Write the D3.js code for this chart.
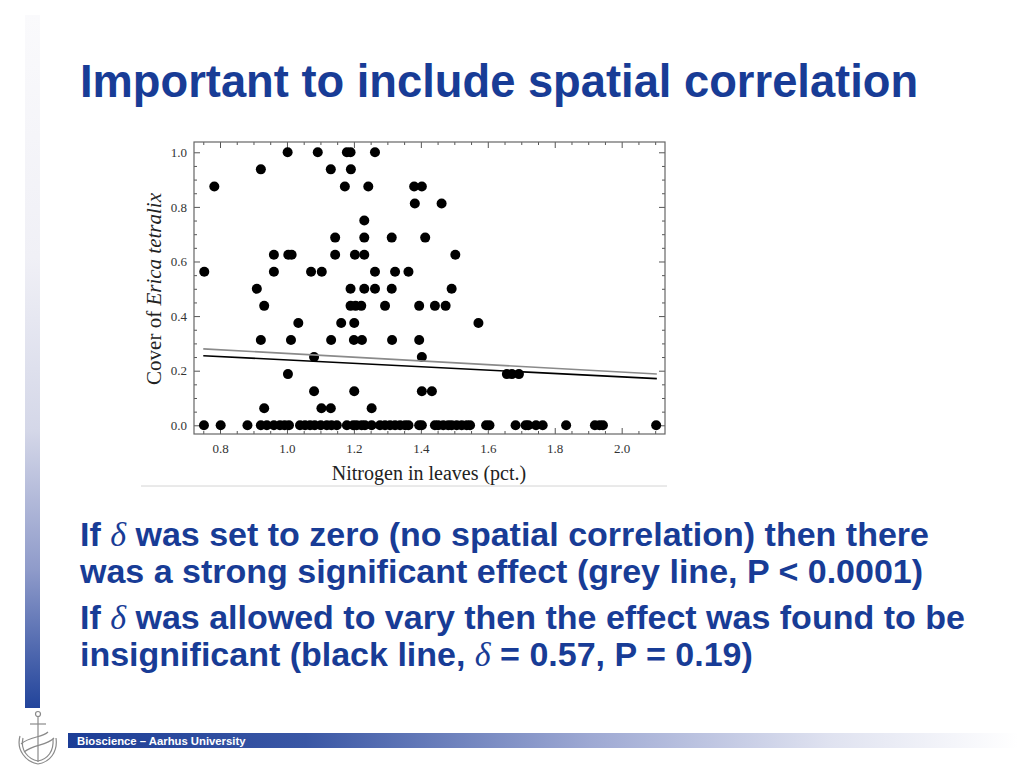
<!DOCTYPE html>
<html>
<head>
<meta charset="utf-8">
<script src="https://cdn.jsdelivr.net/npm/d3@7"></script>
<style>
  body { margin: 0; background: #fff; }
  svg { display: block; }
</style>
</head>
<body>
<script>
// slide size
var w = 1024, h = 768;

// nitrogen (pct.) of each plot, grouped by Erica cover level
var coverLevels = [0, 0.0625, 0.125, 0.1875, 0.25, 0.3125, 0.375, 0.4375, 0.5,
                   0.5625, 0.625, 0.6875, 0.75, 0.8125, 0.875, 0.9375, 1.0];
var nitrogenAtLevel = [
  [0.752, 0.802, 0.882, 0.922, 0.94, 0.961, 0.979, 0.993, 1.006, 1.039, 1.054, 1.069,
   1.083, 1.101, 1.119, 1.133, 1.149, 1.179, 1.198, 1.208, 1.223, 1.233, 1.253, 1.278,
   1.293, 1.308, 1.323, 1.338, 1.353, 1.363, 1.395, 1.403, 1.442, 1.452, 1.467, 1.482,
   1.492, 1.507, 1.522, 1.537, 1.547, 1.595, 1.605, 1.683, 1.713, 1.721, 1.744, 1.764,
   1.834, 1.92, 1.934, 1.944, 2.103],
  [0.932, 1.103, 1.131, 1.253],
  [1.081, 1.201, 1.403, 1.433],
  [1.003, 1.657, 1.672, 1.693],
  [1.081, 1.403],
  [0.922, 1.012, 1.132, 1.2, 1.224, 1.314, 1.395],
  [1.034, 1.162, 1.201, 1.572],
  [0.932, 1.19, 1.205, 1.222, 1.293, 1.395, 1.442, 1.474],
  [0.91, 1.19, 1.231, 1.263, 1.313, 1.492],
  [0.753, 0.961, 1.072, 1.104, 1.263, 1.323, 1.363],
  [0.961, 1.004, 1.014, 1.144, 1.203, 1.231, 1.503],
  [1.144, 1.231, 1.313, 1.413],
  [1.231],
  [1.382, 1.462],
  [0.783, 1.173, 1.243, 1.38, 1.403],
  [0.922, 1.131, 1.191],
  [1.002, 1.092, 1.179, 1.19, 1.263]
];

// fitted lines: [nitrogen, cover]
var fitNoSpatial = [[0.75, 0.28], [2.105, 0.188]];   // grey, delta = 0
var fitSpatial = [[0.75, 0.255], [2.105, 0.171]];    // black, delta free

var xTicks = [0.8, 1.0, 1.2, 1.4, 1.6, 1.8, 2.0];
var yTicks = [0.0, 0.2, 0.4, 0.6, 0.8, 1.0];

var blue = "#183c96";

var svg = d3.select("body").append("svg")
    .attr("width", w)
    .attr("height", h);

var defs = svg.append("defs");

// left vertical strip gradient
var gBar = defs.append("linearGradient")
    .attr("id", "sideBar")
    .attr("x1", 0).attr("y1", 0).attr("x2", 0).attr("y2", 1);
[["0%", "#fafafc"], ["35%", "#f0f0f6"], ["60%", "#d4d7e8"], ["80%", "#8f9bca"], ["100%", "#22449b"]]
  .forEach(function(s){ gBar.append("stop").attr("offset", s[0]).attr("stop-color", s[1]); });

// footer bar gradient
var gFoot = defs.append("linearGradient")
    .attr("id", "footBar")
    .attr("x1", 0).attr("y1", 0).attr("x2", 1).attr("y2", 0);
[["0%", "#1c3d96"], ["25%", "#3a57a5"], ["55%", "#9ea9d3"], ["80%", "#dfe2f0"], ["100%", "#ffffff"]]
  .forEach(function(s){ gFoot.append("stop").attr("offset", s[0]).attr("stop-color", s[1]); });

svg.append("rect")
    .attr("x", 25).attr("y", 15)
    .attr("width", 15).attr("height", 693)
    .style("fill", "url(#sideBar)");

// title
svg.append("text")
    .attr("x", 80).attr("y", 97)
    .style("font-family", "'Liberation Sans', Arial, sans-serif")
    .style("font-weight", "bold")
    .style("font-size", "45.3px")
    .style("fill", blue)
    .text("Important to include spatial correlation");

// ---- chart ----
var plotL = 194, plotR = 665, plotT = 142, plotB = 434;

var x = d3.scaleLinear().domain([0.7223, 2.1294]).range([plotL, plotR]);
var y = d3.scaleLinear().domain([-0.0319, 1.0377]).range([plotB, plotT]);

// picture bottom edge
svg.append("line")
    .attr("x1", 141).attr("x2", 667)
    .attr("y1", 486).attr("y2", 486)
    .style("stroke", "#d4d4d4");

var chart = svg.append("g");
var fmt = d3.format(".1f");
var serif = "'Liberation Serif', 'Times New Roman', serif";

function minorTicks(lo, hi){
  var t = [];
  for (var i = Math.ceil(lo / 0.05); i * 0.05 <= hi; i++) t.push(+(i * 0.05).toFixed(2));
  return t;
}
var xMinor = minorTicks(0.7223, 2.1294).filter(function(v){ return xTicks.indexOf(v) < 0; });
var yMinor = minorTicks(-0.0319, 1.0377).filter(function(v){ return yTicks.indexOf(v) < 0; });

function styleAxis(g, labels){
  g.select(".domain").remove();
  g.selectAll(".tick line").style("stroke", "#555");
  g.selectAll(".tick text")
    .style("font-family", serif)
    .style("font-size", "13px")
    .style("fill", labels ? "#333" : "none");
}

// bottom
chart.append("g").attr("transform", "translate(0," + plotB + ")")
    .call(d3.axisBottom(x).tickValues(xTicks).tickSize(-6).tickPadding(10).tickFormat(fmt))
    .call(styleAxis, true);
chart.append("g").attr("transform", "translate(0," + plotB + ")")
    .call(d3.axisBottom(x).tickValues(xMinor).tickSize(-3).tickFormat(""))
    .call(styleAxis, false);
// top
chart.append("g").attr("transform", "translate(0," + plotT + ")")
    .call(d3.axisTop(x).tickValues(xTicks).tickSize(-6).tickFormat(""))
    .call(styleAxis, false);
chart.append("g").attr("transform", "translate(0," + plotT + ")")
    .call(d3.axisTop(x).tickValues(xMinor).tickSize(-3).tickFormat(""))
    .call(styleAxis, false);
// left
chart.append("g").attr("transform", "translate(" + plotL + ",0)")
    .call(d3.axisLeft(y).tickValues(yTicks).tickSize(-6).tickPadding(7).tickFormat(fmt))
    .call(styleAxis, true);
chart.append("g").attr("transform", "translate(" + plotL + ",0)")
    .call(d3.axisLeft(y).tickValues(yMinor).tickSize(-3).tickFormat(""))
    .call(styleAxis, false);
// right
chart.append("g").attr("transform", "translate(" + plotR + ",0)")
    .call(d3.axisRight(y).tickValues(yTicks).tickSize(-6).tickFormat(""))
    .call(styleAxis, false);
chart.append("g").attr("transform", "translate(" + plotR + ",0)")
    .call(d3.axisRight(y).tickValues(yMinor).tickSize(-3).tickFormat(""))
    .call(styleAxis, false);

// frame
chart.append("rect")
    .attr("x", plotL).attr("y", plotT)
    .attr("width", plotR - plotL).attr("height", plotB - plotT)
    .style("fill", "none")
    .style("stroke", "#666")
    .style("stroke-width", 1.2);

// points
var points = [];
coverLevels.forEach(function(c, i){
  nitrogenAtLevel[i].forEach(function(n){ points.push({n: n, c: c}); });
});

chart.append("g").selectAll("circle")
    .data(points)
    .enter().append("circle")
    .attr("cx", function(d){ return x(d.n); })
    .attr("cy", function(d){ return y(d.c); })
    .attr("r", 5)
    .style("fill", "#000");

// fit lines
var line = d3.line()
    .x(function(d){ return x(d[0]); })
    .y(function(d){ return y(d[1]); });

chart.append("path").datum(fitNoSpatial)
    .attr("d", line)
    .style("fill", "none").style("stroke", "#8a8a8a").style("stroke-width", 1.6);
chart.append("path").datum(fitSpatial)
    .attr("d", line)
    .style("fill", "none").style("stroke", "#000").style("stroke-width", 1.6);

// axis titles
chart.append("text")
    .attr("x", 429).attr("y", 480)
    .attr("text-anchor", "middle")
    .style("font-family", serif)
    .style("font-size", "20px")
    .style("fill", "#222")
    .text("Nitrogen in leaves (pct.)");

var yl = chart.append("text")
    .attr("transform", "translate(161,289) rotate(-90)")
    .attr("text-anchor", "middle")
    .style("font-family", serif)
    .style("font-size", "21px")
    .style("fill", "#222");
yl.append("tspan").text("Cover of ");
yl.append("tspan").style("font-style", "italic").text("Erica tetralix");

// ---- body text ----
var bodyLines = [
  {y: 546, parts: ["If ", "δ", " was set to zero (no spatial correlation) then there"]},
  {y: 583, parts: ["was a strong significant effect (grey line, P < 0.0001)"]},
  {y: 629, parts: ["If ", "δ", " was allowed to vary then the effect was found to be"]},
  {y: 666, parts: ["insignificant (black line, ", "δ", " = 0.57, P = 0.19)"]}
];

bodyLines.forEach(function(l){
  var t = svg.append("text")
      .attr("x", 80).attr("y", l.y)
      .style("font-family", "'Liberation Sans', Arial, sans-serif")
      .style("font-weight", "bold")
      .style("font-size", "34px")
      .style("fill", blue);
  l.parts.forEach(function(p){
    var s = t.append("tspan").text(p);
    if (p === "δ") {
      s.style("font-family", serif).style("font-style", "italic").style("font-weight", "normal");
    }
  });
});

// ---- footer ----
svg.append("rect")
    .attr("x", 68).attr("y", 733)
    .attr("width", 950).attr("height", 15)
    .style("fill", "url(#footBar)");

svg.append("text")
    .attr("x", 77).attr("y", 745)
    .style("font-family", "'Liberation Sans', Arial, sans-serif")
    .style("font-weight", "bold")
    .style("font-size", "11.3px")
    .style("fill", "#fff")
    .text("Bioscience – Aarhus University");

// logo (rough anchor / ship sketch)
var logo = svg.append("g")
    .attr("transform", "translate(38,742)")
    .style("fill", "none")
    .style("stroke", "#8a8a8a")
    .style("stroke-width", 1.2);
logo.append("path").attr("d", "M-18,-6 C-22,8 -12,20 0,22 C12,20 20,10 18,-4");
logo.append("path").attr("d", "M-15,-4 C-18,8 -10,17 0,19 C10,17 16,9 15,-3");
logo.append("line").attr("x1", 0).attr("y1", -26).attr("x2", 0).attr("y2", 20);
logo.append("line").attr("x1", -8).attr("y1", -18).attr("x2", 8).attr("y2", -18);
logo.append("circle").attr("cx", 0).attr("cy", -28).attr("r", 2.5);
logo.append("path").attr("d", "M-17,2 C-8,-6 4,-4 10,-10 M-14,10 C-4,2 8,4 16,-4");
</script>
</body>
</html>
